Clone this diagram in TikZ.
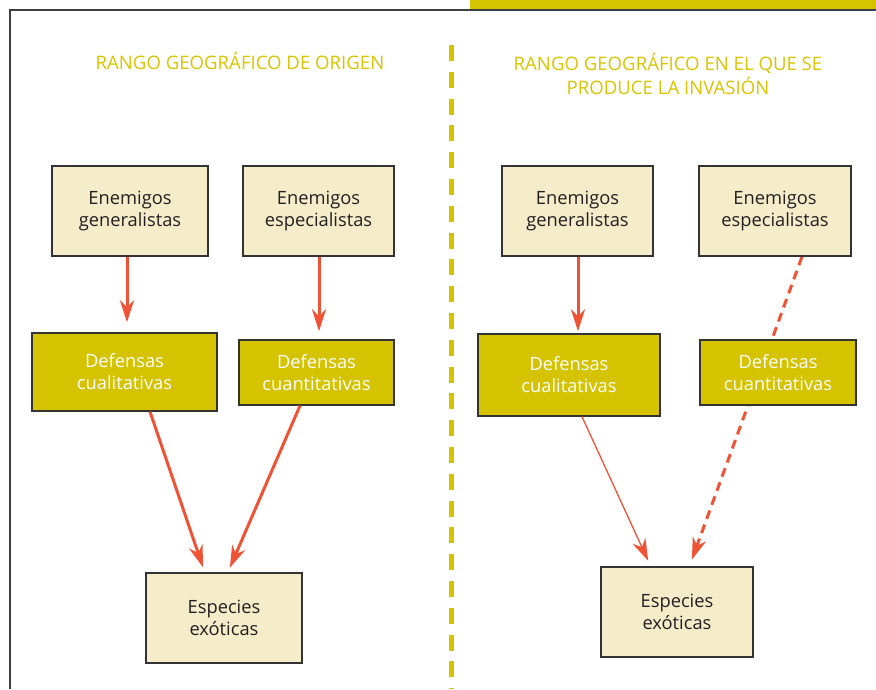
\documentclass[tikz,border=0pt]{standalone}
\usepackage{fontspec}
\setmainfont{Open Sans}
\usetikzlibrary{arrows.meta,backgrounds}
\definecolor{cream}{HTML}{F5EDCA}
\definecolor{olive}{HTML}{D6C300}
\definecolor{ttl}{HTML}{D8C400}
\definecolor{arrc}{HTML}{EF5336}
\definecolor{txt}{HTML}{231F20}
\definecolor{bord}{HTML}{333333}
\tikzset{
 lightbox/.style={draw=bord, line width=1.4pt, fill=cream, text=txt, align=center, font=\fontsize{18.3}{22}\selectfont, inner sep=0pt},
 darkbox/.style={lightbox, fill=olive, text=white},
 arr/.style={draw=arrc, line width=3pt, -{Stealth[length=22pt,width=14pt,inset=7pt]}},
 thinarr/.style={arr, line width=1.3pt},
 dasharr/.style={arr, dash pattern=on 9pt off 6pt},
 title/.style={text=ttl, align=center, font=\fontsize{18.6}{24}\selectfont}
}
\begin{document}
\begin{tikzpicture}[x=1pt,y=-1pt]
\useasboundingbox (0,0) rectangle (876,689);
% frame
\fill[olive] (470,0) rectangle (876,9);
\draw[black!75, line width=1.5pt] (876,10) -- (10,10) -- (10,689);
\draw[olive, line width=5pt, dash pattern=on 16pt off 10.8pt] (451.5,45) -- (451.5,689);
% titles
\node[title] (t1) at (240,61) {RANGO GEOGRÁFICO DE ORIGEN};
\node[title] (t2) at (668,74) {RANGO GEOGRÁFICO EN EL QUE SE\\PRODUCE LA INVASIÓN};
% left side
\node[lightbox, minimum width=156pt, minimum height=90pt] (L1) at (130,211) {Enemigos\\generalistas};
\node[lightbox, minimum width=151pt, minimum height=90pt] (L2) at (318.5,211) {Enemigos\\especialistas};
\node[darkbox, minimum width=185pt, minimum height=78pt] (L3) at (124.5,372) {Defensas\\cualitativas};
\node[darkbox, minimum width=155pt, minimum height=65pt] (L4) at (316.5,372.5) {Defensas\\cuantitativas};
\node[lightbox, minimum width=156pt, minimum height=90pt] (L5) at (224,618) {Especies\\exóticas};
% right side
\node[lightbox, minimum width=151pt, minimum height=90pt] (R1) at (577.5,211) {Enemigos\\generalistas};
\node[lightbox, minimum width=152pt, minimum height=90pt] (R2) at (775,211) {Enemigos\\especialistas};
\node[darkbox, minimum width=182pt, minimum height=82pt] (R3) at (569,375) {Defensas\\cualitativas};
\node[darkbox, minimum width=156pt, minimum height=65pt] (R4) at (778,372.5) {Defensas\\cuantitativas};
\node[lightbox, minimum width=152pt, minimum height=90pt] (R5) at (677,612) {Especies\\exóticas};
% left connectors
\draw[arr, shorten >=10pt] ([xshift=-3pt]L1.south) -- ([xshift=-3pt]L1.south |- L3.north);
\draw[arr, shorten >=8pt] ([xshift=0.5pt]L2.south) -- ([xshift=0.5pt]L2.south |- L4.north);
\draw[arr, shorten >=5.3pt] ([xshift=25.5pt]L3.south) -- ([xshift=-19.3pt]L5.north);
\draw[arr, shorten >=5pt] ([xshift=-16.5pt]L4.south) -- ([xshift=3.9pt]L5.north);
% right connectors
\draw[arr, shorten >=2pt] ([xshift=0.5pt]R1.south) -- ([xshift=0.5pt]R1.south |- R3.north);
\draw[thinarr, shorten >=6pt] ([xshift=13pt]R3.south) -- ([xshift=-26.3pt]R5.north);
\begin{pgfonlayer}{background}
\draw[dasharr, shorten >=7pt] ([xshift=27pt]R2.south) -- ([xshift=12.5pt]R5.north);
\end{pgfonlayer}
\end{tikzpicture}
\end{document}
